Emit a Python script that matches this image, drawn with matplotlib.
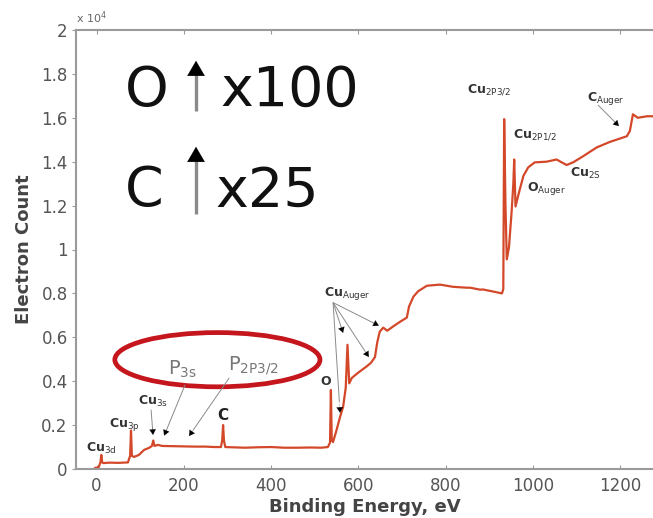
import matplotlib
matplotlib.use("Agg")
import matplotlib.pyplot as plt
from matplotlib.patches import Ellipse

# survey spectrum (binding energy in eV, counts in units of 1e4)
energy_ev = [
    -3, 5, 9, 11, 13, 16, 30, 50, 72, 77, 79, 81, 86, 97, 109, 120, 127, 130, 133, 141,
    150, 175, 200, 225, 250, 270, 285, 288, 290, 292, 295, 310, 340, 370, 400, 430,
    460, 490, 515, 530, 535, 537, 539, 542, 550, 558, 565, 571, 575, 579, 585, 599,
    618, 629, 638, 643, 649, 657, 666, 680, 695, 711, 716, 726, 737, 757, 787, 817,
    848, 856, 879, 885, 905, 929, 932, 934, 937, 940, 945, 951, 955, 957, 960, 968,
    978, 989, 1004, 1031, 1054, 1077, 1092, 1115, 1146, 1176, 1215, 1222, 1229, 1240,
    1261, 1290,
]
counts_1e4 = [
    0.005, 0.008, 0.03, 0.064, 0.03, 0.027, 0.029, 0.028, 0.03, 0.06, 0.175, 0.06, 0.055,
    0.064, 0.087, 0.096, 0.105, 0.13, 0.105, 0.11,
    0.105, 0.104, 0.103, 0.102, 0.102, 0.1, 0.1, 0.13, 0.2, 0.13, 0.1, 0.099, 0.097,
    0.099, 0.1, 0.097, 0.097, 0.098, 0.097, 0.1, 0.12, 0.36, 0.13, 0.123, 0.178, 0.237,
    0.283, 0.37, 0.566, 0.39, 0.415, 0.438,
    0.466, 0.484, 0.51, 0.575, 0.626, 0.644, 0.63, 0.65, 0.67, 0.69, 0.74, 0.785, 0.81,
    0.835, 0.84, 0.83,
    0.826, 0.826, 0.817, 0.818, 0.81, 0.8, 0.82, 1.594, 1.2, 0.955, 1.01, 1.17, 1.3,
    1.41, 1.196, 1.26,
    1.335, 1.374, 1.397, 1.4, 1.41, 1.385, 1.397, 1.425, 1.465, 1.49, 1.516, 1.54,
    1.616, 1.6, 1.607, 1.607,
]

y_ticks = [0, 0.2, 0.4, 0.6, 0.8, 1.0, 1.2, 1.4, 1.6, 1.8, 2.0]
y_tick_labels = ["0", "0.2", "0.4", "0.6", "0.8", "1", "1.2", "1.4", "1.6", "1.8", "2"]
x_ticks = [0, 200, 400, 600, 800, 1000, 1200]

# peak labels: text, anchor x (eV), baseline y
peak_labels = [
    (r"Cu$_{\mathrm{3d}}$", -24, 0.078),
    (r"Cu$_{\mathrm{3p}}$", 29, 0.192),
    (r"Cu$_{\mathrm{3s}}$", 95, 0.292),
    (r"Cu$_{\mathrm{Auger}}$", 522, 0.79),
    (r"Cu$_{\mathrm{2P3/2}}$", 849, 1.717),
    (r"Cu$_{\mathrm{2P1/2}}$", 954, 1.511),
    (r"O$_{\mathrm{Auger}}$", 986, 1.265),
    (r"Cu$_{\mathrm{2S}}$", 1085, 1.333),
    (r"C$_{\mathrm{Auger}}$", 1124, 1.676),
]

# arrows: (start, end) in data coords
label_arrows = [
    ((125, 0.27), (129.5, 0.155)),
    ((203, 0.384), (155, 0.152)),
    ((304, 0.415), (212, 0.150)),
    ((542, 0.758), (558, 0.256)),
    ((542, 0.758), (565, 0.62)),
    ((542, 0.758), (624, 0.51)),
    ((542, 0.758), (647, 0.653)),
    ((1149, 1.658), (1197, 1.562)),
]


def grey_arrow(ax, start, end, lw, head_frac, scale):
    # grey shaft, black head (as in the scanned figure)
    (x0, y0), (x1, y1) = start, end
    hx = x1 - (x1 - x0) * head_frac
    hy = y1 - (y1 - y0) * head_frac
    ax.plot([x0, hx], [y0, hy], color="#8a8a8a", lw=lw, solid_capstyle="butt")
    ax.annotate("", xy=(x1, y1), xytext=(hx, hy),
                arrowprops=dict(arrowstyle="-|>,head_length=0.6,head_width=0.35",
                                lw=0.1, color="black", mutation_scale=scale,
                                shrinkA=0, shrinkB=0))


fig = plt.figure(figsize=(6.53, 5.18), dpi=100)
ax = fig.add_axes([76 / 653, 49 / 518, 577 / 653, 439 / 518])

ax.plot(energy_ev, counts_1e4, color="#d4482a", lw=1.6)

ax.set_xlim(-47, 1275)
ax.set_ylim(0, 2)
ax.set_yticks(y_ticks)
ax.set_yticklabels(y_tick_labels)
ax.set_xticks(x_ticks)

grey = "#9a9a9a"
for side in ["left", "bottom", "top"]:
    ax.spines[side].set_color(grey)
    ax.spines[side].set_linewidth(1.5)
ax.spines["right"].set_visible(False)

ax.tick_params(axis="x", direction="in", length=3, color=grey, labelsize=12,
               labelcolor="#555555", pad=6, top=True)
ax.tick_params(axis="y", direction="out", length=3, color=grey, labelsize=12,
               labelcolor="#555555", pad=3)

ax.set_xlabel("Binding Energy, eV", fontsize=13, fontweight="bold", color="#444444",
              labelpad=2)
ax.set_ylabel("Electron Count", fontsize=13, fontweight="bold", color="#444444",
              labelpad=6)
ax.text(-48, 2.02, r"x 10$^{4}$", fontsize=8, color="#666666", va="bottom", ha="left")

# big scaling notes
ax.text(65, 1.653, "O", fontsize=40, va="baseline", ha="left", color="#111111")
ax.text(283, 1.653, "x100", fontsize=40, va="baseline", ha="left", color="#111111")
ax.text(65, 1.196, "C", fontsize=40, va="baseline", ha="left", color="#111111")
ax.text(272, 1.196, "x25", fontsize=40, va="baseline", ha="left", color="#111111")
for y0, y1 in [(1.63, 1.86), (1.16, 1.468)]:
    grey_arrow(ax, (228, y0), (228, y1), lw=2.4, head_frac=0.06 / (y1 - y0), scale=18)

# circled P labels
ax.add_patch(Ellipse((277, 0.498), 470, 0.247, fill=False, ec="#c4161c", lw=3.4))
ax.text(164, 0.43, r"P$_{\mathrm{3s}}$", fontsize=14, color="#777777", va="baseline")
ax.text(301, 0.452, r"P$_{\mathrm{2P3/2}}$", fontsize=14, color="#777777", va="baseline")

ax.text(276, 0.224, "C", fontsize=11, fontweight="bold", color="#222222", va="baseline")
ax.text(512, 0.383, "O", fontsize=9, fontweight="bold", color="#333333", va="baseline")

for txt, lx, ly in peak_labels:
    ax.text(lx, ly, txt, fontsize=9, fontweight="bold", color="#333333", va="baseline")

for start, end in label_arrows:
    grey_arrow(ax, start, end, lw=0.7, head_frac=0.1, scale=6.5)

fig.savefig("out.png", dpi=100)
